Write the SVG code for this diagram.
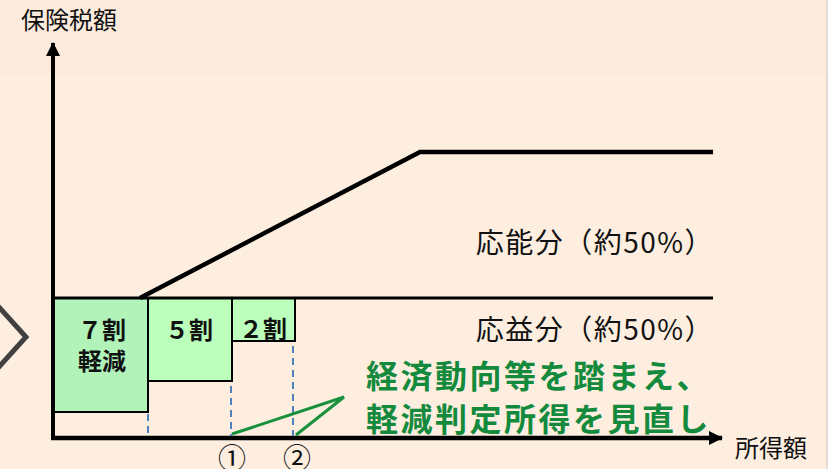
<svg xmlns="http://www.w3.org/2000/svg" width="832" height="469" viewBox="0 0 832 469">
<style>
.t{font-family:"Noto Sans CJK JP","Noto Sans CJK SC",sans-serif;fill:#111}
.lbl{font-size:24px}
.box{stroke:#000;stroke-width:2}
.bt{font-family:"Noto Sans CJK JP",sans-serif;font-size:24px;font-weight:700;fill:#111;text-anchor:middle}
.dash{stroke:#4f81bd;stroke-width:2;stroke-dasharray:7 5;fill:none}
.grn{stroke:#18903c;stroke-width:3;fill:none}
.gt{font-family:"Noto Sans CJK JP",sans-serif;font-size:32px;font-weight:700;fill:#138a3c;letter-spacing:2.5px}
.share{font-size:28px;letter-spacing:1.5px;text-anchor:end}
</style>
<defs>
<marker id="ah" viewBox="0 0 14 14" refX="13" refY="7" markerWidth="14" markerHeight="14" markerUnits="userSpaceOnUse" orient="auto">
<path d="M0,0 L14,7 L0,14 Z" fill="#000"/>
</marker>
</defs>
<rect x="0" y="0" width="832" height="469" fill="#ffffff"/>
<rect x="0" y="0" width="827" height="75" fill="#fcebdd"/>
<rect x="0" y="75" width="827" height="394" fill="#fdeee0"/>
<rect x="826" y="0" width="2" height="469" fill="#e2dcd8"/>
<path d="M-2,306 L26,337 L-2,368" fill="none" stroke="#404040" stroke-width="5"/>

<g id="boxes">
<g id="box7"><rect class="box" x="53" y="298" width="95" height="114" fill="#b1f3b8"/><text class="bt" x="102" y="339">７割</text><text class="bt" x="102" y="370">軽減</text></g>
<g id="box5"><rect class="box" x="148" y="298" width="84" height="83" fill="#bcffbc"/><text class="bt" x="189" y="339">５割</text></g>
<g id="box2"><rect class="box" x="232" y="298" width="63" height="43" fill="#bcffbc"/><text class="bt" x="263" y="338">２割</text></g>
</g>

<g id="connectors">
<line x1="53" y1="440" x2="53" y2="43" stroke="#000" stroke-width="4" marker-end="url(#ah)"/>
<line x1="51" y1="438" x2="722" y2="438" stroke="#000" stroke-width="4.5" marker-end="url(#ah)"/>
<line x1="52" y1="298" x2="713" y2="298" stroke="#000" stroke-width="3"/>
<polyline points="140,298 420,152 713,152" fill="none" stroke="#000" stroke-width="4.5"/>
<line class="dash" x1="148" y1="414" x2="148" y2="436"/>
<line class="dash" x1="231" y1="386" x2="231" y2="436"/>
<line class="dash" x1="293" y1="346" x2="293" y2="436"/>
<polyline class="grn" points="232,434 344,397 296,435"/>
</g>

<g id="labels">
<text class="t lbl" x="21" y="29">保険税額</text>
<text class="t lbl" x="735" y="457">所得額</text>
<text class="t share" x="714" y="253">応能分（約50%）</text>
<text class="t share" x="714" y="340">応益分（約50%）</text>
<text class="t" x="232" y="469" font-size="28" text-anchor="middle">①</text>
<text class="t" x="297" y="469" font-size="28" text-anchor="middle">②</text>
<text class="gt" x="366" y="388">経済動向等を踏まえ、</text>
<text class="gt" x="366" y="431">軽減判定所得を見直し</text>
</g>
</svg>
